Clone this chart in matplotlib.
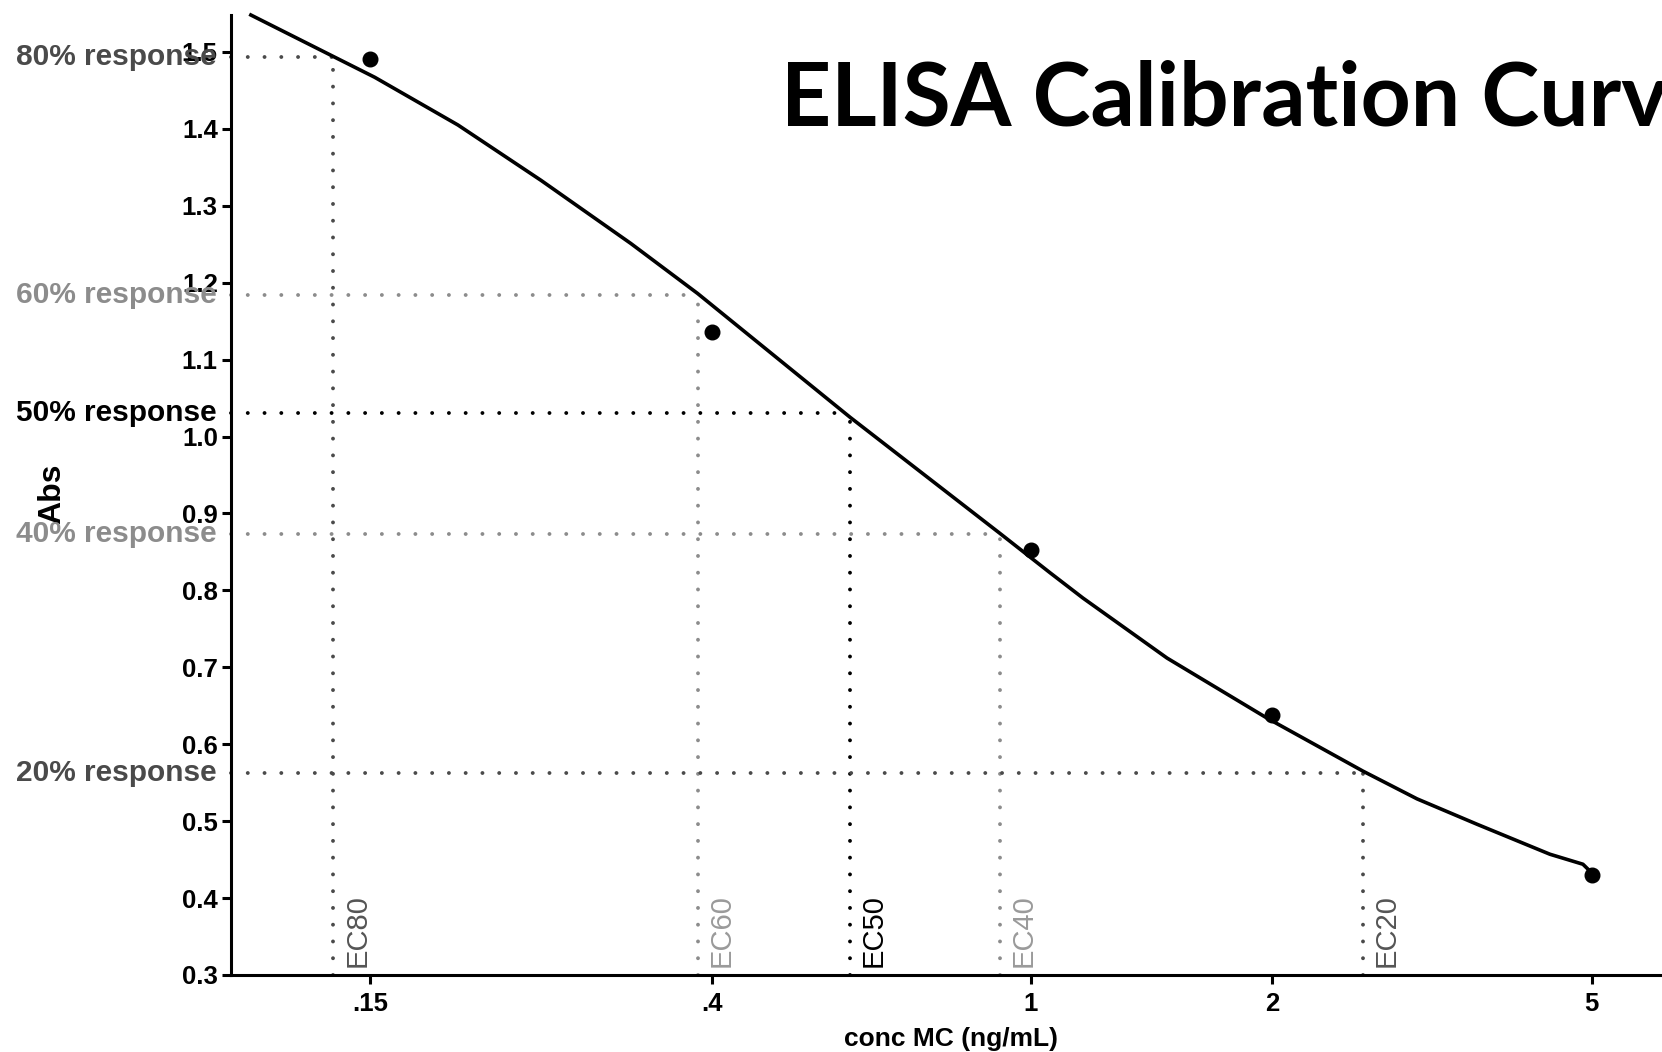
import matplotlib
matplotlib.use("Agg")
import matplotlib.pyplot as plt
from matplotlib.ticker import FixedLocator, FixedFormatter, NullLocator

# ---------------- data ----------------
conc = [0.15, 0.4, 1.0, 2.0, 5.0]
absorbance = [1.491, 1.136, 0.853, 0.638, 0.430]

curve_x = [0.1065, 0.135, 0.152, 0.193, 0.245, 0.317, 0.384, 0.595, 0.915,
           1.056, 1.161, 1.478, 1.969, 2.594, 3.029, 3.598, 4.436, 4.877, 5.0]
curve_y = [1.548, 1.494, 1.467, 1.405, 1.333, 1.251, 1.186, 1.025, 0.874,
           0.823, 0.790, 0.712, 0.634, 0.565, 0.529, 0.496, 0.457, 0.444, 0.433]

response_labels = ["80% response", "60% response", "50% response",
                   "40% response", "20% response"]
response_levels = [1.494, 1.184, 1.030, 0.873, 0.563]
ec_labels = ["EC80", "EC60", "EC50", "EC40", "EC20"]
ec_values = [0.135, 0.384, 0.595, 0.915, 2.594]
ref_colors = ["#4a4a4a", "#8c8c8c", "#000000", "#8c8c8c", "#4a4a4a"]
ec_text_colors = ["#555555", "#9a9a9a", "#000000", "#9a9a9a", "#555555"]

xtick_values = [0.15, 0.4, 1, 2, 5]
xtick_labels = [".15", ".4", "1", "2", "5"]
ytick_values = [0.3, 0.4, 0.5, 0.6, 0.7, 0.8, 0.9, 1.0, 1.1, 1.2, 1.3, 1.4, 1.5]
ytick_labels = ["0.3", "0.4", "0.5", "0.6", "0.7", "0.8", "0.9", "1.0",
                "1.1", "1.2", "1.3", "1.4", "1.5"]

title_text = "ELISA Calibration Curve"
xlabel_text = "conc MC (ng/mL)"
ylabel_text = "Abs"

# ---------------- figure ----------------
plt.rcParams["font.family"] = ["Liberation Sans", "DejaVu Sans"]
W, H = 1662, 1052
fig = plt.figure(figsize=(W / 100, H / 100), dpi=100)
ax = fig.add_axes([231 / W, 77 / H, 1431 / W, 960 / H])

ax.set_xscale("log")
ax.set_xlim(0.1006, 6.12)
ax.set_ylim(0.3, 1.548)

dot_style = (0, (0.01, 4.3))
# reference dotted lines
for lvl, ecv, col in zip(response_levels, ec_values, ref_colors):
    ax.plot([0.1006, ecv], [lvl, lvl], color=col, lw=2.8,
            linestyle=dot_style, dash_capstyle="round", zorder=1,
            clip_on=False)
    ax.plot([ecv, ecv], [0.3, lvl], color=col, lw=2.8,
            linestyle=dot_style, dash_capstyle="round", zorder=1,
            clip_on=False)

# curve + points
ax.plot(curve_x, curve_y, color="black", lw=2.6, zorder=3, clip_on=False,
        solid_joinstyle="round")
ax.plot(conc, absorbance, "o", color="black", markersize=10.5, zorder=4)

# EC labels
for lab, ecv, col in zip(ec_labels, ec_values, ec_text_colors):
    ax.annotate(lab, xy=(ecv, 0.3), xytext=(7, 6), textcoords="offset points",
                rotation=90, ha="left", va="bottom", fontsize=21, color=col)

# response labels (left of axis)
trans = ax.get_yaxis_transform()
for lab, lvl, col in zip(response_labels, response_levels, ref_colors):
    ax.text(-0.0098, lvl, lab, transform=trans, ha="right", va="center",
            fontsize=21.5, fontweight="bold", color=col, clip_on=False)

# spines
for s in ["top", "right"]:
    ax.spines[s].set_visible(False)
for s in ["left", "bottom"]:
    ax.spines[s].set_linewidth(2.2)

ax.xaxis.set_major_locator(FixedLocator(xtick_values))
ax.xaxis.set_major_formatter(FixedFormatter(xtick_labels))
ax.xaxis.set_minor_locator(NullLocator())
ax.yaxis.set_major_locator(FixedLocator(ytick_values))
ax.yaxis.set_major_formatter(FixedFormatter(ytick_labels))

ax.tick_params(axis="both", which="major", direction="out", length=6.5,
               width=2.2, labelsize=18.5)
ax.tick_params(axis="y", pad=3)
ax.tick_params(axis="x", pad=6)
for t in ax.get_xticklabels() + ax.get_yticklabels():
    t.set_fontweight("bold")

ax.set_xlabel(xlabel_text, fontsize=19, fontweight="bold")
ax.xaxis.set_label_coords((951 - 231) / 1431, (975 - 1039) / 960)
ax.xaxis.label.set_va("center")
ax.set_ylabel(ylabel_text, fontsize=23, fontweight="bold")
ax.yaxis.set_label_coords((52 - 231) / 1431, (975 - 494) / 960)
ax.yaxis.label.set_va("center")

fig.text(781 / W, 1 - 125 / H, title_text, fontsize=63, fontweight="bold",
         family=["Lato", "DejaVu Sans"], ha="left", va="baseline")

fig.savefig("out.png", dpi=100)
